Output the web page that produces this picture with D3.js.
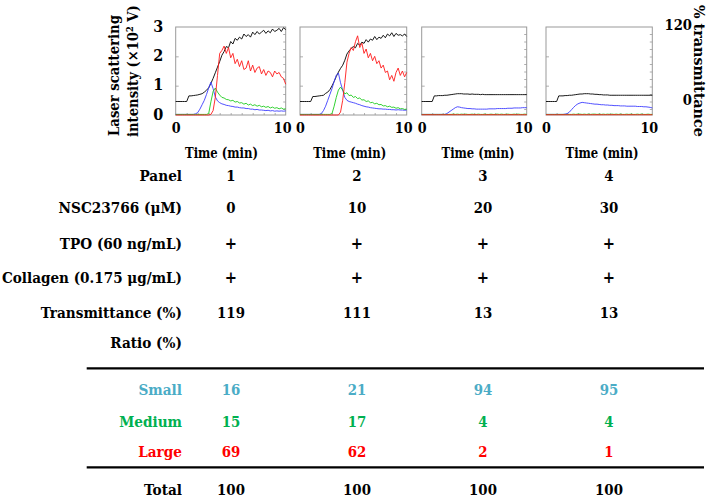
<!DOCTYPE html>
<html>
<head>
<meta charset="utf-8">
<script src="https://cdn.jsdelivr.net/npm/d3@7"></script>
<style>
body { margin: 0; background: #fff; }
text { font-family: "DejaVu Serif", serif; }
</style>
</head>
<body>
<script>
// sampling times (min), shared by all traces
var times = [0,0.2,0.4,0.6,0.8,1,1.2,1.4,1.6,1.8,
    2,2.2,2.4,2.6,2.8,3,3.2,3.4,3.6,3.8,
    4,4.2,4.4,4.6,4.8,5,5.2,5.4,5.6,5.8,
    6,6.2,6.4,6.6,6.8,7,7.2,7.4,7.6,7.8,
    8,8.2,8.4,8.6,8.8,9,9.2,9.4,9.6,9.8,
    10];

// panel 1 : transmittance (%) and scattering intensity (x10^2 V)
var trans1 = [0,0,0,0,0,0,9,9,9.5,10,
    10.5,11.5,12.5,15,18,22,29,37,46,55,
    64,74,80,88,86,96,92,101,98,103,
    100,108,104,107,103,111,107,112,108,111,
    114,109,113,110,116,112,114,117,112,118,
    115];
var small1 = [0.02,0.02,0.02,0.02,0.02,0.02,0.02,0.02,0.02,0.04,
    0.08,0.2,0.35,0.5,0.7,0.92,1.12,0.9,0.62,0.48,
    0.42,0.38,0.36,0.33,0.32,0.3,0.29,0.27,0.27,0.25,
    0.24,0.24,0.22,0.22,0.2,0.2,0.18,0.19,0.17,0.17,
    0.16,0.15,0.16,0.14,0.15,0.13,0.14,0.13,0.14,0.13,
    0.14];
var medium1 = [0.02,0.02,0.02,0.02,0.02,0.02,0.02,0.02,0.02,0.02,
    0.02,0.02,0.02,0.02,0.02,0.05,0.45,0.8,0.92,0.78,
    0.68,0.6,0.58,0.53,0.52,0.48,0.5,0.44,0.46,0.41,
    0.42,0.37,0.4,0.34,0.37,0.32,0.35,0.3,0.33,0.28,
    0.3,0.26,0.29,0.24,0.27,0.23,0.25,0.21,0.24,0.2,
    0.21];
var large1 = [0,0,0,0,0,0,0,0,0,0,
    0,0,0,0,0,0,0.02,0.15,0.6,1.35,
    2.1,2.2,2.35,2.1,2.3,1.95,2.1,1.75,1.9,1.65,
    1.85,1.55,1.6,1.85,1.5,1.7,1.45,1.6,1.65,1.4,
    1.55,1.35,1.5,1.45,1.3,1.5,1.4,1.45,1.3,1.25,
    1.05];

// panel 2
var trans2 = [0,0,0,0,0,0,8,8,8.5,9,
    9.5,10,13,15,19,25,32,40,47,53,
    58,66,76,81,85,88,86,93,90,95,
    93,99,95,100,98,104,99,103,101,106,
    102,108,105,110,104,109,106,107,105,108,
    104];
var small2 = [0.02,0.02,0.02,0.02,0.02,0.02,0.02,0.02,0.02,0.02,
    0.05,0.15,0.3,0.5,0.7,0.9,1.15,1.35,1.43,1.1,
    0.85,0.6,0.5,0.46,0.44,0.42,0.4,0.37,0.35,0.32,
    0.3,0.28,0.27,0.25,0.24,0.23,0.22,0.21,0.21,0.2,
    0.2,0.19,0.19,0.18,0.18,0.17,0.18,0.17,0.17,0.16,
    0.17];
var medium2 = [0.02,0.02,0.02,0.02,0.02,0.02,0.02,0.02,0.02,0.02,
    0.02,0.02,0.02,0.02,0.02,0.05,0.3,0.6,0.85,0.95,
    0.85,0.72,0.76,0.66,0.68,0.6,0.63,0.56,0.58,0.51,
    0.52,0.46,0.48,0.42,0.43,0.38,0.4,0.35,0.36,0.31,
    0.32,0.28,0.3,0.26,0.27,0.23,0.25,0.21,0.22,0.19,
    0.2];
var large2 = [0,0,0,0,0,0,0,0,0,0,
    0,0,0,0,0,0,0,0,0,0.1,
    0.5,1.1,1.8,2.1,2.3,2.2,2.5,2.7,2.3,2.45,
    2.1,2.25,1.95,2.1,1.85,2.0,1.75,1.85,1.6,1.7,
    1.45,1.5,1.2,1.35,1.15,1.45,1.6,1.35,1.5,1.3,
    1.45];

// panel 3
var trans3 = [0,0,0,0,0,0,9,9,9.5,9.5,
    9.5,10,10,10.5,11,11.5,12,12.5,12.5,12.5,
    12,12,12,11.5,12,11.5,11.5,11.5,11,11.5,
    11,11,11,11,11,11,11,11,11,11,
    11,11,11,11,11,11,11,11,11,11,
    11];
var small3 = [0.02,0.02,0.02,0.02,0.02,0.02,0.02,0.02,0.02,0.02,
    0.02,0.02,0.05,0.1,0.15,0.2,0.25,0.28,0.27,0.25,
    0.24,0.23,0.22,0.22,0.21,0.21,0.2,0.2,0.2,0.2,
    0.2,0.2,0.21,0.21,0.21,0.21,0.22,0.22,0.22,0.22,
    0.22,0.23,0.23,0.23,0.24,0.24,0.24,0.24,0.25,0.25,
    0.25];
var medium3 = [0.02,0.02,0.02,0.02,0.02,0.02,0.02,0.02,0.02,0.02,
    0.02,0.02,0.02,0.02,0.02,0.03,0.02,0.03,0.02,0.03,
    0.02,0.03,0.02,0.02,0.03,0.02,0.02,0.03,0.02,0.02,
    0.03,0.02,0.02,0.03,0.02,0.02,0.03,0.02,0.03,0.02,
    0.02,0.03,0.02,0.02,0.03,0.02,0.03,0.02,0.02,0.03,
    0.02];
var large3 = [0.01,0.01,0.01,0.01,0.01,0.01,0.01,0.01,0.01,0.01,
    0.01,0.01,0.01,0.01,0.01,0.01,0.01,0.01,0.01,0.01,
    0.01,0.01,0.01,0.01,0.01,0.01,0.01,0.01,0.01,0.01,
    0.01,0.01,0.01,0.01,0.01,0.01,0.01,0.01,0.01,0.01,
    0.01,0.01,0.01,0.01,0.01,0.01,0.01,0.01,0.01,0.01,
    0.01];

// panel 4
var trans4 = [0,0,0,0,0,0,9,9,9,9.5,
    9.5,10,10,10.5,11,11.5,12,12,12.5,12.5,
    12.5,12,12,11.5,11.5,11,11,10.5,10.5,10.5,
    10,10,10,10,10,10,10,10,10,10,
    10,10,10,10,10,10,10,10,10,10,
    10];
var small4 = [0.02,0.02,0.02,0.02,0.02,0.02,0.02,0.02,0.02,0.03,
    0.05,0.1,0.18,0.26,0.33,0.38,0.41,0.43,0.42,0.41,
    0.4,0.39,0.38,0.37,0.37,0.36,0.35,0.35,0.34,0.34,
    0.33,0.33,0.32,0.32,0.32,0.31,0.31,0.31,0.3,0.3,
    0.3,0.3,0.3,0.29,0.29,0.29,0.28,0.28,0.27,0.26,
    0.24];
var medium4 = [0.02,0.02,0.02,0.02,0.02,0.02,0.02,0.02,0.02,0.02,
    0.02,0.02,0.02,0.03,0.02,0.03,0.03,0.02,0.03,0.02,
    0.03,0.02,0.03,0.03,0.02,0.03,0.02,0.03,0.02,0.03,
    0.02,0.03,0.02,0.03,0.02,0.03,0.02,0.02,0.03,0.02,
    0.03,0.02,0.02,0.03,0.02,0.03,0.02,0.02,0.03,0.02,
    0.02];
var large4 = [0.01,0.01,0.01,0.01,0.01,0.01,0.01,0.01,0.01,0.01,
    0.01,0.01,0.01,0.01,0.01,0.01,0.01,0.01,0.01,0.01,
    0.01,0.01,0.01,0.01,0.01,0.01,0.01,0.01,0.01,0.01,
    0.01,0.01,0.01,0.01,0.01,0.01,0.01,0.01,0.01,0.01,
    0.01,0.01,0.01,0.01,0.01,0.01,0.01,0.01,0.01,0.01,
    0.01];

// table
var panels = ["1", "2", "3", "4"];
var nscDose = ["0", "10", "20", "30"];
var tpo = ["+", "+", "+", "+"];
var collagen = ["+", "+", "+", "+"];
var transmittancePct = ["119", "111", "13", "13"];
var ratioSmall = ["16", "21", "94", "95"];
var ratioMedium = ["15", "17", "4", "4"];
var ratioLarge = ["69", "62", "2", "1"];
var ratioTotal = ["100", "100", "100", "100"];

var panelData = [
    {trans: trans1, small: small1, medium: medium1, large: large1},
    {trans: trans2, small: small2, medium: medium2, large: large2},
    {trans: trans3, small: small3, medium: medium3, large: large3},
    {trans: trans4, small: small4, medium: medium4, large: large4}
];

var svg = d3.select("body").append("svg")
    .attr("width", 709)
    .attr("height", 498);

var panelLeft = [175.7, 300, 421.7, 546]
    , panelRight = [285.7, 406.7, 526.7, 652.3]
    , panelTop = 27
    , panelBottom = 115
    , timeLabelX = [221.5, 349.7, 478, 602];

var yI = d3.scaleLinear().domain([0, 3]).range([panelBottom, panelTop]);
var yT = d3.scaleLinear().domain([0, 120]).range([101.5, 26.5]);

var traces = [
    {key: "trans", color: "#000000", scale: yT},
    {key: "small", color: "#3c3cff", scale: yI},
    {key: "medium", color: "#1ccc1c", scale: yI},
    {key: "large", color: "#ff1a1a", scale: yI}
];

// squeeze bold DejaVu glyphs so they look like a narrow schoolbook face
function condense(sel, factor, maxLen) {
    sel.each(function () {
        var len = this.getComputedTextLength() * factor;
        if (maxLen && len > maxLen) len = maxLen;
        d3.select(this).attr("textLength", len).attr("lengthAdjust", "spacingAndGlyphs");
    });
}

function styleTicks(g) {
    g.select(".domain").remove();
    g.selectAll("line").attr("stroke", "#9a9a9a").attr("stroke-width", 0.8);
}

panelData.forEach(function (p, k) {
    var x = d3.scaleLinear().domain([0, 10]).range([panelLeft[k], panelRight[k]]);
    var g = svg.append("g");

    g.append("rect")
        .attr("x", panelLeft[k])
        .attr("y", panelTop)
        .attr("width", panelRight[k] - panelLeft[k])
        .attr("height", panelBottom - panelTop)
        .attr("fill", "none")
        .attr("stroke", "#9a9a9a")
        .attr("stroke-width", 1);

    // inner tick marks
    g.append("g").attr("transform", "translate(" + panelLeft[k] + ",0)")
        .call(d3.axisRight(yI).tickValues([1, 2]).tickSize(3).tickFormat(""))
        .call(styleTicks);
    g.append("g").attr("transform", "translate(" + panelRight[k] + ",0)")
        .call(d3.axisLeft(yT).tickValues([-12, 0, 12, 24, 36, 48, 60, 72, 84, 96, 108]).tickSize(2.5).tickFormat(""))
        .call(styleTicks);
    g.append("g").attr("transform", "translate(0," + panelBottom + ")")
        .call(d3.axisTop(x).tickValues([1, 2, 3, 4, 5, 6, 7, 8, 9]).tickSize(2).tickFormat(""))
        .call(styleTicks);

    traces.forEach(function (t) {
        var line = d3.line()
            .x(function (d, i) { return x(times[i]); })
            .y(function (d) { return t.scale(d); });
        g.append("path")
            .datum(p[t.key])
            .attr("fill", "none")
            .attr("stroke", t.color)
            .attr("stroke-width", 0.9)
            .attr("d", line);
    });

    // x axis numbers
    var xa = g.append("g").attr("transform", "translate(0," + panelBottom + ")")
        .call(d3.axisBottom(x).tickValues([0, 10]).tickSize(0).tickPadding(7).tickFormat(d3.format("d")));
    xa.select(".domain").remove();
    xa.attr("font-family", "DejaVu Serif").attr("font-size", 15).attr("font-weight", "bold");
    xa.selectAll("text").attr("fill", "#000")
        .attr("dx", function (d) { return d === 10 ? -3.5 : 0; })
        .call(condense, 0.85);

    g.append("text")
        .attr("x", timeLabelX[k])
        .attr("y", 158)
        .attr("text-anchor", "middle")
        .attr("font-size", 14.5)
        .attr("font-weight", "bold")
        .attr("textLength", 73)
        .attr("lengthAdjust", "spacingAndGlyphs")
        .text("Time (min)");
});

// left axis numbers
var ya = svg.append("g").attr("transform", "translate(" + panelLeft[0] + ",0)")
    .call(d3.axisLeft(yI).tickValues([0, 1, 2, 3]).tickSize(0).tickPadding(12.5).tickFormat(d3.format("d")));
ya.select(".domain").remove();
ya.attr("font-family", "DejaVu Serif").attr("font-size", 16).attr("font-weight", "bold");
ya.selectAll("text").attr("fill", "#000").attr("dy", "0.25em").call(condense, 0.9);

// right axis numbers (transmittance)
var ta = svg.append("g").attr("transform", "translate(" + panelRight[3] + ",0)")
    .call(d3.axisRight(yT).tickValues([0, 120]).tickSize(0).tickFormat(d3.format("d")));
ta.select(".domain").remove();
ta.attr("font-family", "DejaVu Serif").attr("font-size", 15.5).attr("font-weight", "bold");
ta.selectAll("text").attr("fill", "#000").attr("x", 39.7).attr("text-anchor", "end").attr("dy", "0.2em")
    .call(condense, 0.85);

// rotated axis titles, squeezed along the reading direction with a scale
function rotatedTitle(txt, tx, ty, angle, size, target) {
    var t = svg.append("text")
        .attr("font-size", size)
        .attr("font-weight", "bold")
        .text(txt);
    var sx = target / t.node().getComputedTextLength();
    t.attr("transform", "translate(" + tx + "," + ty + ") rotate(" + angle + ") scale(" + sx + ",1)");
}
rotatedTitle("Laser scattering", 118.5, 136, -90, 15.5, 121);
rotatedTitle("intensity (×10² V)", 137.5, 137, -90, 15.5, 132);
rotatedTitle("% transmittance", 693.5, 5, 90, 15, 132);

// table
var colX = d3.scalePoint().domain(panels).range([231, 609]);
var labelRight = 182;

var rows = [
    {label: "Panel", vals: panels, y: 181, color: "#000"},
    {label: "NSC23766 (μM)", vals: nscDose, y: 213, color: "#000"},
    {label: "TPO (60 ng/mL)", vals: tpo, y: 249.3, color: "#000"},
    {label: "Collagen (0.175 μg/mL)", vals: collagen, y: 283.3, color: "#000"},
    {label: "Transmittance (%)", vals: transmittancePct, y: 318.3, color: "#000"},
    {label: "Ratio (%)", vals: null, y: 348.3, color: "#000"},
    {label: "Small", vals: ratioSmall, y: 395, color: "#4bacc6"},
    {label: "Medium", vals: ratioMedium, y: 426.7, color: "#00b050"},
    {label: "Large", vals: ratioLarge, y: 456.7, color: "#ff0000"},
    {label: "Total", vals: ratioTotal, y: 495, color: "#000"}
];

rows.forEach(function (r) {
    svg.append("text")
        .attr("x", labelRight)
        .attr("y", r.y)
        .attr("text-anchor", "end")
        .attr("font-size", 15.5)
        .attr("font-weight", "bold")
        .attr("fill", r.color)
        .text(r.label)
        .call(condense, 0.88, 180);
    if (!r.vals) return;
    svg.selectAll(null)
        .data(r.vals.map(function (v, i) { return {v: v, p: panels[i]}; }))
        .enter().append("text")
        .attr("x", function (d) { return colX(d.p); })
        .attr("y", r.y)
        .attr("text-anchor", "middle")
        .attr("font-size", function (d) { return d.v === "+" ? 17 : 15.5; })
        .attr("font-weight", "bold")
        .attr("fill", r.color)
        .text(function (d) { return d.v; })
        .call(condense, 0.86);
});

[368.3, 467.3].forEach(function (yy) {
    svg.append("line")
        .attr("x1", 86.7).attr("x2", 704)
        .attr("y1", yy).attr("y2", yy)
        .attr("stroke", "#000")
        .attr("stroke-width", 2.2);
});
</script>
</body>
</html>
